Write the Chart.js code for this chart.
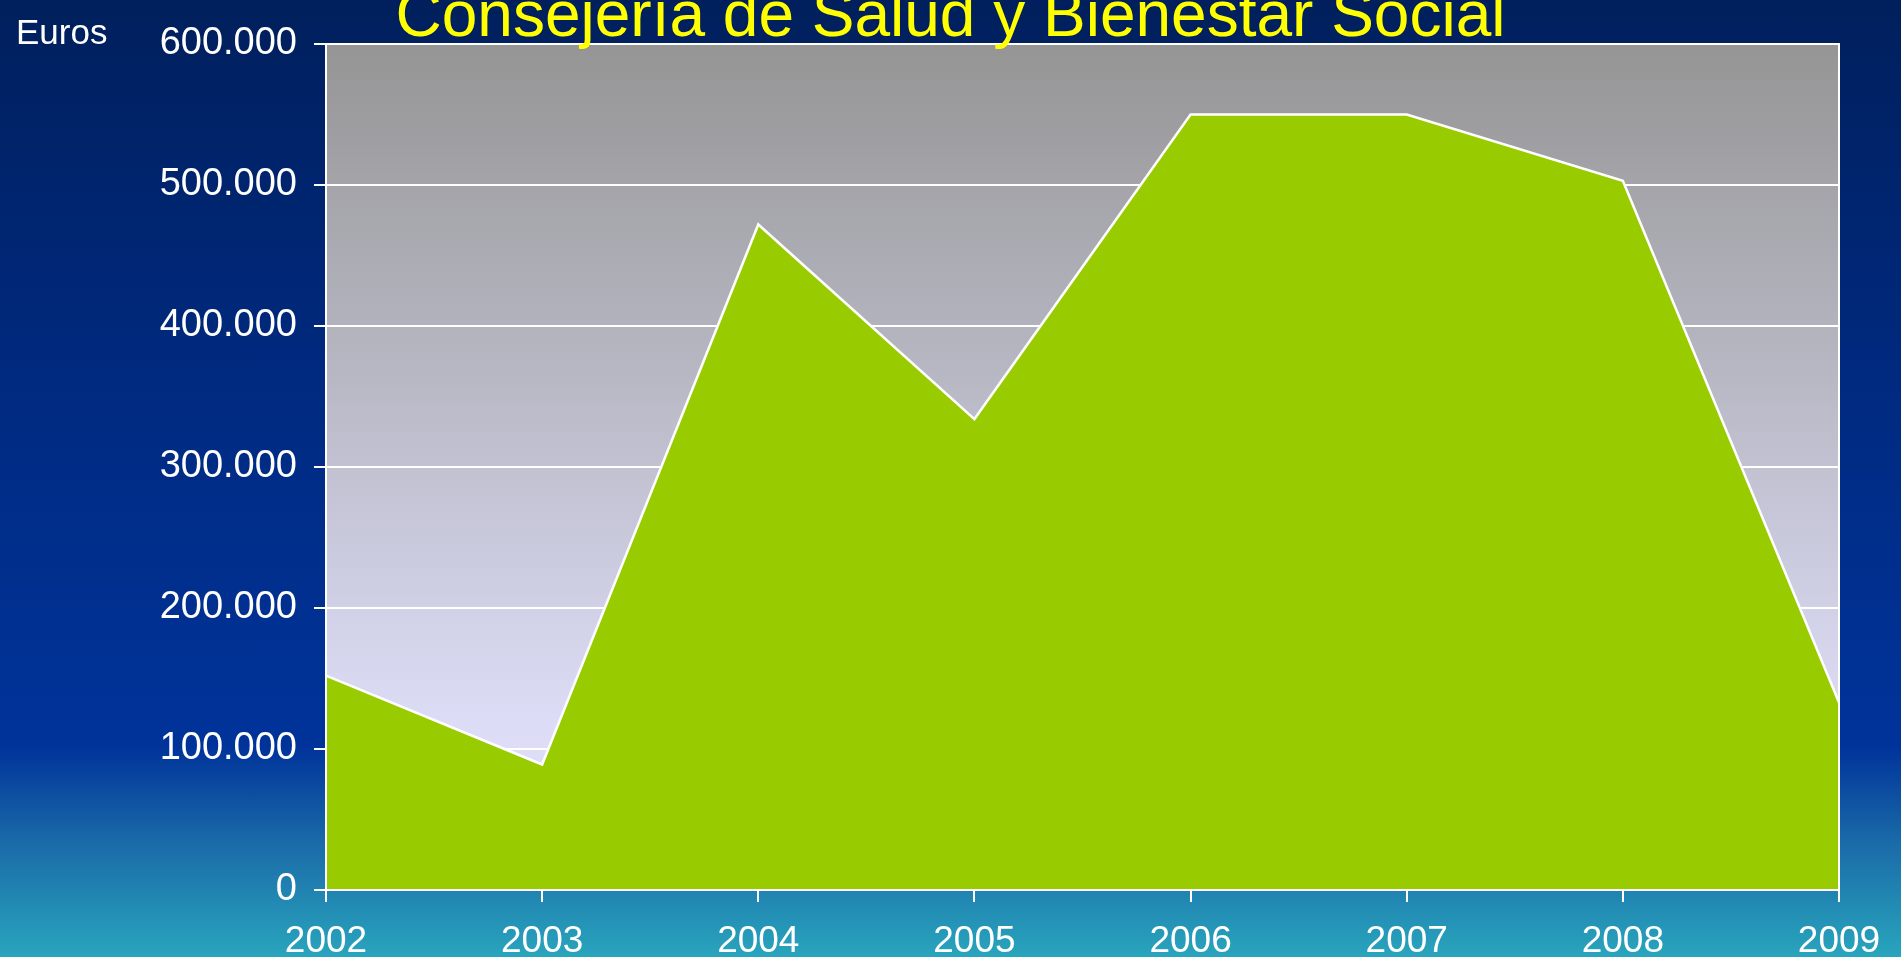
<!DOCTYPE html>
<html lang="es">
<head>
    <meta charset="UTF-8">
    <title>Consejería de Salud y Bienestar Social</title>
    <style>
        html, body { margin: 0; padding: 0; height: 100%; overflow: hidden; }
        body {
            background: linear-gradient(to bottom, #001f5c 0%, #002a80 40%, #00339a 78%, #1a6aa8 88%, #29a5bd 100%);
        }
        .chart-box { position: relative; width: 1901px; height: 957px; }
    </style>
</head>
<body>
    <div class="chart-box">
        <canvas id="gastoChart"></canvas>
    </div>

    <script src="https://cdn.jsdelivr.net/npm/chart.js"></script>
    <script>
        // Datos
        const years = ['2002', '2003', '2004', '2005', '2006', '2007', '2008', '2009'];
        const euros = [152000, 89000, 472000, 334000, 550000, 550000, 503000, 133000];
        const yTicks = [0, 100000, 200000, 300000, 400000, 500000, 600000];

        const titleText = 'Consejería de Salud y Bienestar Social';
        const unitText = 'Euros';

        // formato 600.000
        function fmt(v) {
            return String(v).replace(/\B(?=(\d{3})+(?!\d))/g, '.');
        }

        // fondo degradado del área de trazado + borde blanco + textos
        const plotDecor = {
            id: 'plotDecor',
            beforeDraw(chart) {
                const { ctx, chartArea: a } = chart;
                const g = ctx.createLinearGradient(0, a.top, 0, a.bottom);
                g.addColorStop(0, '#959595');
                g.addColorStop(0.8, '#dcdcf6');
                g.addColorStop(1, '#e2e2ff');
                ctx.save();
                ctx.fillStyle = g;
                ctx.fillRect(a.left, a.top, a.right - a.left, a.bottom - a.top);
                ctx.restore();
            },
            afterDatasetsDraw(chart) {
                const { ctx, chartArea: a } = chart;
                ctx.save();
                ctx.strokeStyle = '#ffffff';
                ctx.lineWidth = 2;
                ctx.strokeRect(a.left, a.top, a.right - a.left, a.bottom - a.top);
                ctx.restore();
            },
            afterDraw(chart) {
                const ctx = chart.ctx;
                ctx.save();
                ctx.textBaseline = 'alphabetic';
                ctx.fillStyle = '#ffff00';
                ctx.font = '64px "Liberation Sans", Arial, sans-serif';
                ctx.textAlign = 'center';
                ctx.fillText(titleText, chart.width / 2, 36);
                ctx.fillStyle = '#ffffff';
                ctx.font = '35px "Liberation Sans", Arial, sans-serif';
                ctx.textAlign = 'left';
                ctx.fillText(unitText, 16, 44);
                ctx.restore();
            }
        };

        const ctx = document.getElementById('gastoChart').getContext('2d');
        const gastoChart = new Chart(ctx, {
            type: 'line',
            data: {
                labels: years,
                datasets: [{
                    label: unitText,
                    data: euros,
                    borderColor: '#ffffff',
                    borderWidth: 2.5,
                    backgroundColor: '#99cc00',
                    fill: 'origin',
                    tension: 0,
                    pointRadius: 0
                }]
            },
            options: {
                responsive: true,
                maintainAspectRatio: false,
                animation: false,
                layout: {
                    padding: { top: 44, right: 62, bottom: 0, left: 0 }
                },
                plugins: {
                    legend: { display: false },
                    tooltip: { enabled: false }
                },
                scales: {
                    x: {
                        offset: false,
                        grid: {
                            drawOnChartArea: false,
                            drawTicks: true,
                            tickLength: 12,
                            color: '#ffffff',
                            lineWidth: 2
                        },
                        border: { color: '#ffffff', width: 2 },
                        ticks: {
                            color: '#ffffff',
                            padding: 18,
                            maxRotation: 0,
                            font: { family: '"Liberation Sans", Arial, sans-serif', size: 37 }
                        },
                        afterFit(scale) { scale.height = 67; }
                    },
                    y: {
                        min: 0,
                        max: 600000,
                        afterBuildTicks(scale) {
                            scale.ticks = yTicks.map(v => ({ value: v }));
                        },
                        grid: {
                            color: '#ffffff',
                            lineWidth: 2,
                            tickLength: 12
                        },
                        border: { color: '#ffffff', width: 2 },
                        ticks: {
                            color: '#ffffff',
                            padding: 17,
                            callback: v => fmt(v),
                            font: { family: '"Liberation Sans", Arial, sans-serif', size: 38 }
                        },
                        afterFit(scale) { scale.width = 326; }
                    }
                }
            },
            plugins: [plotDecor]
        });
    </script>
</body>
</html>
